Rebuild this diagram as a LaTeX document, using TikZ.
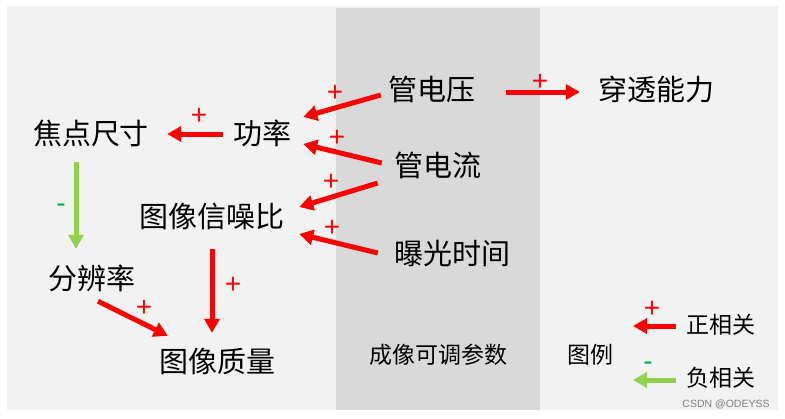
\documentclass[tikz,border=0pt]{standalone}
\usepackage{fontspec}
\setmainfont{Liberation Sans}
\newfontfamily\cjk{Noto Sans CJK SC}
\usetikzlibrary{arrows.meta}

\definecolor{panelgray}{HTML}{F2F2F2}
\definecolor{bandgray}{HTML}{D9D9D9}
\definecolor{negarrowgreen}{HTML}{92D050}
\definecolor{minusgreen}{HTML}{00B050}

\begin{document}
\begin{tikzpicture}[x=1pt,y=-1pt,
    biglbl/.style={inner sep=0pt,text height=25pt,text depth=4pt,font=\cjk\fontsize{29}{29}\selectfont},
    smalllbl/.style={inner sep=0pt,text height=20pt,text depth=3pt,font=\cjk\fontsize{23}{23}\selectfont},
    posarrow/.style={-{Triangle[length=14pt,width=15pt]},line width=5pt,red},
    negarrow/.style={-{Triangle[length=14pt,width=15pt]},line width=5pt,negarrowgreen},
    plussign/.style={inner sep=0pt,red,font=\fontsize{28}{28}\selectfont},
    minussign/.style={inner sep=0pt,minusgreen,font=\fontsize{28}{28}\selectfont}]

  \useasboundingbox (0,0) rectangle (785,418);

  % Background panels
  \fill[panelgray] (7,6) rectangle (778,410);
  \fill[bandgray] (336,8) rectangle (540,410);

  % Adjustable parameters
  \node[biglbl] (volt) at (432,90) {管电压};
  \node[biglbl] (cur) at (438,166) {管电流};
  \node[biglbl] (expo) at (452,254) {曝光时间};
  \node[smalllbl] (param) at (438,355) {成像可调参数};

  % Derived quantities
  \node[biglbl] (pen) at (656,90) {穿透能力};
  \node[biglbl] (power) at (262,134) {功率};
  \node[biglbl] (focus) at (91,134) {焦点尺寸};
  \node[biglbl] (snr) at (212,217) {图像信噪比};
  \node[biglbl] (res) at (92,279) {分辨率};
  \node[biglbl] (qual) at (217,362) {图像质量};

  % Connectors
  \draw[posarrow] ([xshift=-10pt]power.west) -- ([xshift=18pt]focus.east);
  \draw[posarrow] ([xshift=-7.5pt,yshift=-5pt]volt.west) -- ([xshift=12pt,yshift=17pt]power.east);
  \draw[posarrow] ([xshift=-12.5pt,yshift=3pt]cur.west) -- ([xshift=12pt,yshift=-10pt]power.east);
  \draw[posarrow] ([xshift=-16.5pt,yshift=-17pt]cur.west) -- ([xshift=14.5pt,yshift=10pt]snr.east);
  \draw[posarrow] ([xshift=-16pt,yshift=1pt]expo.west) -- ([xshift=14.5pt,yshift=-17pt]snr.east);
  \draw[posarrow] ([xshift=30.5pt,yshift=-2pt]volt.east) -- ([xshift=-18pt,yshift=-2pt]pen.west);
  \draw[negarrow] ([xshift=-15pt,yshift=-13.5pt]focus.south) -- ([xshift=-16pt,yshift=15.5pt]res.north);
  \draw[posarrow] ([yshift=-17.5pt]snr.south) -- ([xshift=-5pt,yshift=14.5pt]qual.north);
  \draw[posarrow] ([xshift=6pt,yshift=-7.5pt]res.south) -- ([xshift=9pt,yshift=11.5pt]qual.north west);

  % Signs on the connectors
  \node[plussign] (p1) at (199,116) {+};
  \node[plussign] (p2) at (335,93) {+};
  \node[plussign] (p3) at (337,138) {+};
  \node[plussign] (p4) at (331,182) {+};
  \node[plussign] (p5) at (332,228) {+};
  \node[plussign] (p6) at (540,82) {+};
  \node[plussign] (p7) at (233,285) {+};
  \node[plussign] (p8) at (144,308) {+};
  \node[minussign] (m1) at (61,208) {-};

  % Legend
  \node[smalllbl] (legend) at (590,355) {图例};
  \node[smalllbl] (poslbl) at (721,325) {正相关};
  \node[smalllbl] (neglbl) at (721,378) {负相关};
  \coordinate (posend) at (633,326);
  \coordinate (negend) at (633,380);
  \draw[posarrow] ([xshift=-10.5pt,yshift=-1pt]poslbl.west) -- (posend);
  \draw[negarrow] ([xshift=-10.5pt,yshift=-2pt]neglbl.west) -- (negend);
  \node[plussign] (p9) at (652,309) {+};
  \node[minussign] (m2) at (648,366) {-};

  \node[inner sep=0pt,gray,font=\fontsize{10.5}{10.5}\selectfont] (mark) at (726,404) {CSDN @ODEYSS};

\end{tikzpicture}
\end{document}
